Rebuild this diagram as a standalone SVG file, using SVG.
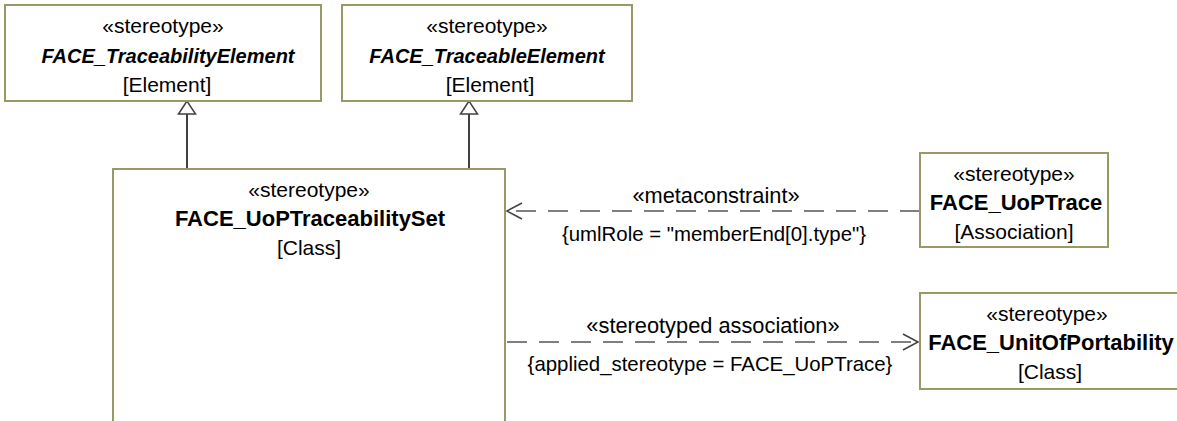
<svg xmlns="http://www.w3.org/2000/svg" width="1177" height="421" viewBox="0 0 1177 421">
<style>
.box{fill:#fff;stroke:#999966;stroke-width:2}
text{font-family:"Liberation Sans",Arial,sans-serif;font-size:21px;fill:#000;text-anchor:middle}
.b{font-weight:bold;font-size:22px}
.bi{font-weight:bold;font-style:italic;font-size:20px}
.line{fill:none;stroke:#404040;stroke-width:2}
.dash{fill:none;stroke:#555;stroke-width:1.5;stroke-dasharray:20,12}
.lbl{font-size:20.4px}
.st{font-size:21.8px}
</style>
<g id="connectors">
<line class="line" x1="187" y1="169" x2="187" y2="114"/>
<polygon points="187,101 178.5,114 195.5,114" fill="#fff" stroke="#404040" stroke-width="1.5"/>
<line class="line" x1="469" y1="169" x2="469" y2="114"/>
<polygon points="469,101 460.5,114 477.5,114" fill="#fff" stroke="#404040" stroke-width="1.5"/>
<path class="dash" d="M920,211 L507,211"/>
<path d="M522,203 L507,211 L522,219" fill="none" stroke="#404040" stroke-width="1.5"/>
<text x="716" y="203" class="st">«metaconstraint»</text>
<text x="714" y="241" class="lbl">{umlRole = "memberEnd[0].type"}</text>
<path class="dash" d="M507,342 L918,342"/>
<path d="M903,334 L918,342 L903,350" fill="none" stroke="#404040" stroke-width="1.5"/>
<text x="713" y="333" class="st">«stereotyped association»</text>
<text x="710" y="371" class="lbl">{applied_stereotype = FACE_UoPTrace}</text>
</g>
<g id="traceabilityElement">
<rect class="box" x="5" y="5" width="316" height="96"/>
<text x="163" y="33">«stereotype»</text>
<text x="168" y="63" class="bi">FACE_TraceabilityElement</text>
<text x="167" y="92">[Element]</text>
</g>
<g id="traceableElement">
<rect class="box" x="342" y="5" width="290" height="96"/>
<text x="487" y="33">«stereotype»</text>
<text x="487" y="63" class="bi">FACE_TraceableElement</text>
<text x="490" y="92">[Element]</text>
</g>
<g id="uopTraceabilitySet">
<rect class="box" x="113" y="169" width="392" height="262"/>
<text x="309" y="197">«stereotype»</text>
<text x="310" y="226" class="b">FACE_UoPTraceabilitySet</text>
<text x="309" y="255">[Class]</text>
</g>
<g id="uopTrace">
<rect class="box" x="920" y="153" width="188" height="94"/>
<text x="1014" y="181">«stereotype»</text>
<text x="1016" y="210" class="b">FACE_UoPTrace</text>
<text x="1014" y="239">[Association]</text>
</g>
<g id="unitOfPortability">
<rect class="box" x="920" y="293" width="270" height="96"/>
<text x="1047" y="321">«stereotype»</text>
<text x="1051" y="350" class="b">FACE_UnitOfPortability</text>
<text x="1050" y="379">[Class]</text>
</g>
</svg>
